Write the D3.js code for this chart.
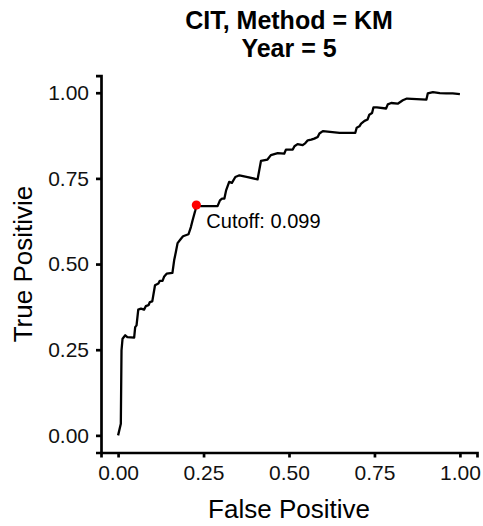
<!DOCTYPE html>
<html>
<head>
<meta charset="utf-8">
<script src="https://cdn.jsdelivr.net/npm/d3@7"></script>
<style>
  body { margin: 0; background: #fff; }
  svg { display: block; font-family: "Liberation Sans", Arial, sans-serif; }
</style>
</head>
<body>
<div class="canvas"></div>
<script>
// ROC curve points
const falsePositive = [0, 0.008, 0.010, 0.013, 0.021, 0.027, 0.047, 0.050, 0.054, 0.059,
  0.067, 0.076, 0.081, 0.089, 0.093, 0.100, 0.108, 0.118, 0.122, 0.130,
  0.135, 0.142, 0.159, 0.164, 0.169, 0.174, 0.184, 0.190, 0.206, 0.213,
  0.218, 0.226, 0.229, 0.242, 0.291, 0.298, 0.304, 0.311, 0.316, 0.325,
  0.333, 0.343, 0.355, 0.379, 0.408, 0.418, 0.437, 0.447, 0.467, 0.486,
  0.491, 0.511, 0.516, 0.525, 0.540, 0.548, 0.555, 0.565, 0.574, 0.584,
  0.589, 0.599, 0.648, 0.694, 0.698, 0.706, 0.711, 0.721, 0.730, 0.735,
  0.743, 0.747, 0.757, 0.784, 0.789, 0.799, 0.818, 0.833, 0.845, 0.902,
  0.906, 0.921, 0.941, 0.960, 0.979, 1.0];
const truePositive = [0, 0.034, 0.248, 0.282, 0.292, 0.287, 0.285, 0.316, 0.321, 0.367,
  0.370, 0.367, 0.377, 0.380, 0.389, 0.391, 0.438, 0.443, 0.451, 0.451,
  0.464, 0.472, 0.474, 0.511, 0.535, 0.561, 0.574, 0.581, 0.587, 0.608,
  0.628, 0.657, 0.672, 0.669, 0.669, 0.686, 0.691, 0.691, 0.715, 0.740,
  0.737, 0.754, 0.759, 0.754, 0.747, 0.801, 0.805, 0.818, 0.824, 0.822,
  0.834, 0.834, 0.844, 0.850, 0.847, 0.853, 0.861, 0.863, 0.866, 0.871,
  0.881, 0.888, 0.883, 0.883, 0.898, 0.902, 0.910, 0.918, 0.922, 0.936,
  0.941, 0.957, 0.957, 0.954, 0.966, 0.970, 0.968, 0.978, 0.983, 0.980,
  0.998, 1.002, 0.999, 0.998, 0.998, 0.996];

// Optimal cutoff point
const cutoffPoint = [0.229, 0.672];
const cutoffLabel = "Cutoff: 0.099";

const ticks = [0, 0.25, 0.5, 0.75, 1];
const titleLines = ["CIT, Method = KM", "Year = 5"];
const xTitle = "False Positive";
const yTitle = "True Positivie";

const width = 483, height = 526;
const panel = { left: 101, right: 477, top: 75.6, bottom: 452.5 };

const svg = d3.select(".canvas")
  .append("svg")
  .attr("width", width)
  .attr("height", height);

// Scales, with ggplot's 5% expansion
const x = d3.scaleLinear().domain([-0.05, 1.05]).range([panel.left, panel.right]);
const y = d3.scaleLinear().domain([-0.05, 1.05]).range([panel.bottom, panel.top]);

// Axes
const xAxis = d3.axisBottom(x).tickValues(ticks).tickFormat(d3.format(".2f"))
  .tickSizeOuter(0).tickSize(5).tickPadding(8);
const yAxis = d3.axisLeft(y).tickValues(ticks).tickFormat(d3.format(".2f"))
  .tickSizeOuter(0).tickSize(5).tickPadding(7);

const xAxisGroup = svg.append("g")
  .attr("transform", `translate(0, ${panel.bottom})`)
  .call(xAxis);
const yAxisGroup = svg.append("g")
  .attr("transform", `translate(${panel.left}, 0)`)
  .call(yAxis);

[xAxisGroup, yAxisGroup].forEach(g => {
  g.select(".domain").attr("stroke", "#000").attr("stroke-width", 2.7);
  g.selectAll(".tick line").attr("stroke", "#000").attr("stroke-width", 2.7);
  g.selectAll(".tick text")
    .attr("fill", "#111")
    .style("font-size", "21px")
    .style("font-family", "'Liberation Sans', Arial, sans-serif");
});
xAxisGroup.selectAll(".tick text").attr("dy", "0.71em");

// ROC line
const line = d3.line()
  .x((d, i) => x(falsePositive[i]))
  .y(d => y(d));

svg.append("path")
  .datum(truePositive)
  .attr("fill", "none")
  .attr("stroke", "#000")
  .attr("stroke-width", 2.3)
  .attr("stroke-linejoin", "round")
  .attr("d", line);

// Cutoff marker and label
svg.append("circle")
  .attr("cx", x(cutoffPoint[0]))
  .attr("cy", y(cutoffPoint[1]))
  .attr("r", 4.6)
  .attr("fill", "#ff0000");

svg.append("text")
  .attr("x", x(cutoffPoint[0]) + 10)
  .attr("y", y(cutoffPoint[1]) + 23)
  .attr("fill", "#000")
  .style("font-size", "20px")
  .text(cutoffLabel);

// Titles
const cx = (panel.left + panel.right) / 2;
svg.append("text")
  .attr("text-anchor", "middle")
  .style("font-size", "25px")
  .style("font-weight", "bold")
  .selectAll("tspan")
  .data(titleLines)
  .enter()
  .append("tspan")
  .attr("x", cx)
  .attr("y", (d, i) => 29 + i * 28)
  .text(d => d);

svg.append("text")
  .attr("x", cx)
  .attr("y", 518)
  .attr("text-anchor", "middle")
  .style("font-size", "26px")
  .text(xTitle);

svg.append("text")
  .attr("transform", `translate(32, ${(panel.top + panel.bottom) / 2}) rotate(-90)`)
  .attr("text-anchor", "middle")
  .style("font-size", "26px")
  .text(yTitle);
</script>
</body>
</html>
